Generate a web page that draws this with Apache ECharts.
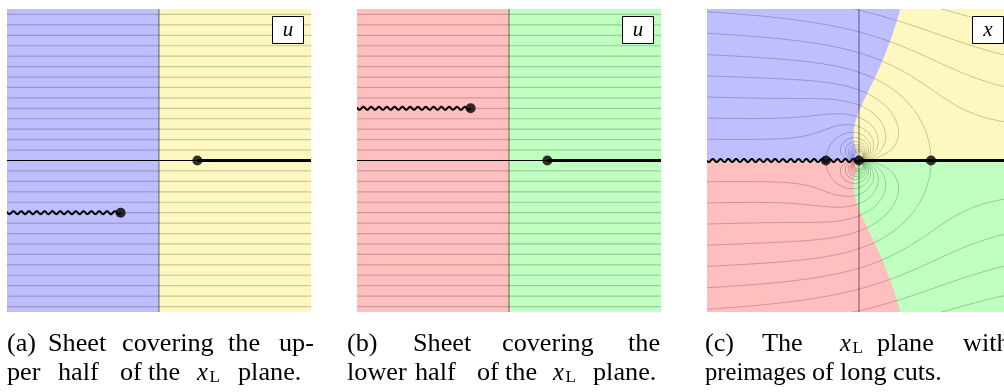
<!DOCTYPE html>
<html><head><meta charset="utf-8">
<script src="https://cdn.jsdelivr.net/npm/echarts@6/dist/echarts.min.js"></script>
<style>html,body{margin:0;padding:0;background:#fff}#c{width:1004px;height:392px}</style>
</head><body><div id="c"></div>
<script>
// ---------------- values ----------------
// Im(u) of the horizontal grid lines of the u plane (spacing 0.5)
const GRID_LEVELS = [-7,-6.5,-6,-5.5,-5,-4.5,-4,-3.5,-3,-2.5,-2,-1.5,-1,-0.5,0,0.5,1,1.5,2,2.5,3,3.5,4,4.5,5,5.5,6,6.5,7];
const U_RANGE_X = [-7.29, 7.29];
const U_RANGE_Y = [-7.26, 7.26];
// panel (c) is cut by the right border of the figure
const X_RANGE_X = [-3.11, 2.967];
const X_RANGE_Y = [-3.10, 3.10];
// long (log) cut height on each sheet: sheet (a), sheet (b)
const LONG_CUT_IM = [-2.5, 2.5];
const LONG_CUT_END_RE = [-1.84];   // Re u of the end of the wavy cut
const SHORT_CUT_START_RE = [1.84]; // Re u of the branch point of the straight cut
// special points on the real x axis: critical point, log point, critical point
const X_POINTS = [-0.678, 0, 1.474];
// map u = x + 1/x + k log x  (k fixed by the cut height: k*pi = -2.5)
const LOG_COEFF = [LONG_CUT_IM[0] / Math.PI];

const CAPTIONS = [
  [[["(a)",7],["Sheet",48],["covering",122],["the",228],["up-",279]],
   [["per",7],["half",58],["of",120],["the",148],["xL",197],["plane.",238]]],
  [[["(b)",347],["Sheet",413],["covering",502],["the",628]],
   [["lower",347],["half",415],["of",477],["the",505],["xL",553],["plane.",593]]],
  [[["(c)",705],["The",762],["xL",840],["plane",877],["with",963]],
   [["preimages",705],["of",812],["long",840],["cuts.",893]]]
];
const PANEL_LABELS = ["u", "u", "x"];

// ---------------- helpers ----------------
const K = LOG_COEFF[0];
function rAt(h, th) {
  const s = Math.sin(th), A = h - K * th, D = Math.sqrt(A * A + 4 * s * s);
  return A >= 0 ? (A + D) / (2 * s) : (2 * s) / (D - A);
}
function reU(h, th) { const r = rAt(h, th); return r * Math.cos(th) + Math.cos(th) / r + K * Math.log(r); }
// preimage of the line Im u = h on the upper half x plane
function levelCurve(h) {
  const pts = [], N = 1400;
  for (let i = 1; i < N; i++) {
    const t = i / N;
    const th = Math.PI * (1 - Math.cos(Math.PI * t)) / 2;
    const r = rAt(h, th);
    if (!(r < 40)) continue;
    pts.push([r * Math.cos(th), r * Math.sin(th)]);
  }
  return pts;
}
// preimage of Re u = 0 on the upper half x plane, from top down to origin
function boundaryCurve() {
  const hs = [];
  for (let h = 8; h > -10; h -= 0.02) hs.push(h);
  for (let h = -10; h >= -400; h -= 2) hs.push(h);
  const pts = [];
  for (const h of hs) {
    let lo = 1e-7, hi = Math.PI - 1e-7;
    for (let i = 0; i < 60; i++) { const m = (lo + hi) / 2; if (reU(h, m) > 0) lo = m; else hi = m; }
    const th = (lo + hi) / 2, r = rAt(h, th);
    pts.push([r * Math.cos(th), r * Math.sin(th)]);
  }
  pts.push([0, 0]);
  return pts;
}
const clampPt = (p, bx, by) => [Math.min(bx[1], Math.max(bx[0], p[0])), Math.min(by[1], Math.max(by[0], p[1]))];

const COL = { blue: '#bfbfff', yellow: '#fff7c0', red: '#ffbfbf', green: '#bfffbf' };
const GRID_LINE = 'rgba(0,0,0,0.2)';
const AXIS_LINE = 'rgba(0,0,0,0.45)';

function poly(api, pts, fill) {
  return { type: 'polygon', shape: { points: pts.map(p => api.coord(p)) }, style: { fill: fill, stroke: null } };
}
function wavyRender(params, api) {
  const x0 = api.value(0), x1 = api.value(1), y = api.value(2);
  const p0 = api.coord([x0, y]), p1 = api.coord([x1, y]);
  const pts = [], P = 7.8, A = 1.5;
  for (let px = p1[0]; px >= p0[0] - 0.5; px -= 0.5) {
    pts.push([px, p1[1] + A * Math.sin(2 * Math.PI * (p1[0] - px) / P)]);
  }
  return { type: 'polyline', shape: { points: pts }, style: { stroke: '#000', lineWidth: 2, fill: null } };
}

const series = [];
// ---- panels (a) and (b): u plane sheets ----
[0, 1].forEach(i => {
  const leftCol = i === 0 ? COL.blue : COL.red;
  const rightCol = i === 0 ? COL.yellow : COL.green;
  const ax = { xAxisIndex: i, yAxisIndex: i };
  series.push(Object.assign({
    type: 'custom', coordinateSystem: 'cartesian2d', clip: true, z: 1, silent: true,
    data: [[0, 0]],
    renderItem: (params, api) => ({
      type: 'group', children: [
        poly(api, [[U_RANGE_X[0], U_RANGE_Y[0]], [0, U_RANGE_Y[0]], [0, U_RANGE_Y[1]], [U_RANGE_X[0], U_RANGE_Y[1]]], leftCol),
        poly(api, [[0, U_RANGE_Y[0]], [U_RANGE_X[1], U_RANGE_Y[0]], [U_RANGE_X[1], U_RANGE_Y[1]], [0, U_RANGE_Y[1]]], rightCol)
      ]
    })
  }, ax));
  series.push(Object.assign({
    type: 'custom', coordinateSystem: 'cartesian2d', clip: true, z: 2, silent: true,
    data: GRID_LEVELS.map(h => [0, h]),
    renderItem: (params, api) => {
      const h = api.value(1);
      const a = api.coord([U_RANGE_X[0], h]), b = api.coord([U_RANGE_X[1], h]);
      return { type: 'line', shape: { x1: a[0], y1: a[1], x2: b[0], y2: b[1] }, style: { stroke: GRID_LINE, lineWidth: 1.2 } };
    }
  }, ax));
  series.push(Object.assign({ type: 'line', z: 3, symbol: 'none', silent: true,
    data: [[0, U_RANGE_Y[0]], [0, U_RANGE_Y[1]]], lineStyle: { color: AXIS_LINE, width: 1.2 } }, ax));
  series.push(Object.assign({ type: 'line', z: 4, symbol: 'none', silent: true,
    data: [[U_RANGE_X[0], 0], [SHORT_CUT_START_RE[0], 0]], lineStyle: { color: '#000', width: 1 } }, ax));
  series.push(Object.assign({ type: 'line', z: 5, symbol: 'none', silent: true,
    data: [[SHORT_CUT_START_RE[0], 0], [U_RANGE_X[1], 0]], lineStyle: { color: '#000', width: 3 } }, ax));
  series.push(Object.assign({ type: 'custom', coordinateSystem: 'cartesian2d', clip: true, z: 5, silent: true,
    data: [[U_RANGE_X[0], LONG_CUT_END_RE[0], LONG_CUT_IM[i]]], renderItem: wavyRender }, ax));
  series.push(Object.assign({ type: 'scatter', z: 6, symbolSize: 10, silent: true, itemStyle: { color: '#000' },
    data: [[SHORT_CUT_START_RE[0], 0], [LONG_CUT_END_RE[0], LONG_CUT_IM[i]]] }, ax));
});

// ---- panel (c): x plane ----
const BOUND = boundaryCurve();
const ax2 = { xAxisIndex: 2, yAxisIndex: 2 };
series.push(Object.assign({
  type: 'custom', coordinateSystem: 'cartesian2d', clip: true, z: 1, silent: true,
  data: [[0, 0]],
  renderItem: (params, api) => {
    const up = BOUND.concat([[X_RANGE_X[0], 0], [X_RANGE_X[0], X_RANGE_Y[1]]]).map(p => clampPt(p, X_RANGE_X, [0, X_RANGE_Y[1]]));
    const dn = up.map(p => [p[0], -p[1]]);
    return {
      type: 'group', children: [
        poly(api, [[X_RANGE_X[0], 0], [X_RANGE_X[1], 0], [X_RANGE_X[1], X_RANGE_Y[1]], [X_RANGE_X[0], X_RANGE_Y[1]]], COL.yellow),
        poly(api, [[X_RANGE_X[0], X_RANGE_Y[0]], [X_RANGE_X[1], X_RANGE_Y[0]], [X_RANGE_X[1], 0], [X_RANGE_X[0], 0]], COL.green),
        poly(api, up, COL.blue),
        poly(api, dn, COL.red)
      ]
    };
  }
}, ax2));
series.push(Object.assign({
  type: 'custom', coordinateSystem: 'cartesian2d', clip: true, z: 2, silent: true,
  data: GRID_LEVELS.map(h => [0, h]),
  renderItem: (params, api) => {
    const h = api.value(1);
    const up = levelCurve(h);
    const st = { stroke: 'rgba(0,0,0,0.22)', lineWidth: 1, fill: null };
    return {
      type: 'group', children: [
        { type: 'polyline', shape: { points: up.map(p => api.coord(p)) }, style: st },
        { type: 'polyline', shape: { points: up.map(p => api.coord([p[0], -p[1]])) }, style: st }
      ]
    };
  }
}, ax2));
series.push(Object.assign({ type: 'line', z: 3, symbol: 'none', silent: true,
  data: [[0, X_RANGE_Y[0]], [0, X_RANGE_Y[1]]], lineStyle: { color: AXIS_LINE, width: 1.2 } }, ax2));
series.push(Object.assign({ type: 'line', z: 5, symbol: 'none', silent: true,
  data: [[X_POINTS[1], 0], [X_RANGE_X[1], 0]], lineStyle: { color: '#000', width: 3 } }, ax2));
series.push(Object.assign({ type: 'custom', coordinateSystem: 'cartesian2d', clip: true, z: 5, silent: true,
  data: [[X_RANGE_X[0], X_POINTS[1], 0]], renderItem: wavyRender }, ax2));
series.push(Object.assign({ type: 'scatter', z: 6, symbolSize: 10, silent: true, itemStyle: { color: '#000' },
  data: X_POINTS.map(x => [x, 0]) }, ax2));

// ---- graphics: label boxes and captions ----
const graphic = [];
const PANEL_LEFT = [7, 357, 707];
const PANEL_W = [304, 304, 297];
PANEL_LABELS.forEach((lab, i) => {
  const bx = PANEL_LEFT[i] + 265;
  graphic.push({ type: 'rect', z: 100, shape: { x: bx + 0.5, y: 16.5, width: 31, height: 27 },
    style: { fill: '#fff', stroke: '#000', lineWidth: 1 } });
  graphic.push({ type: 'text', z: 101, x: bx + 16, y: 30,
    style: { text: lab, font: 'italic 21px "Liberation Serif"', fill: '#000',
      align: 'center', textAlign: 'center', verticalAlign: 'middle', textVerticalAlign: 'middle' } });
});
const BASE = [352.7, 381.7];
const FS = 24.5, MID = 0.3375;
const FONT = FS + 'px "Liberation Serif"';
const measureCtx = document.createElement('canvas').getContext('2d');
measureCtx.font = FONT;
function txt(text, x, y, font, sx) {
  return { type: 'text', z: 100, x: x, y: y, scaleX: sx || 1,
    style: { text: text, font: font, fill: '#000',
      align: 'left', textAlign: 'left', verticalAlign: 'middle', textVerticalAlign: 'middle' } };
}
CAPTIONS.forEach(cap => {
  cap.forEach((line, li) => {
    line.forEach(([w, x], wi) => {
      const y = BASE[li] - MID * FS;
      if (w === 'xL') {
        graphic.push(txt('x', x, y, 'italic ' + FONT));
        graphic.push(txt('L', x + 12.5, BASE[li] + 2 - MID * 17, '17px "Liberation Serif"'));
      } else {
        const width = measureCtx.measureText(w).width;
        const next = wi + 1 < line.length ? line[wi + 1][1] : Infinity;
        const sx = Math.max(1, Math.min(1.07, (next - 6 - x) / width));
        graphic.push(txt(w, x, y, FONT, sx));
      }
    });
  });
});

const chart = echarts.init(document.getElementById('c'), null, { renderer: 'canvas', width: 1004, height: 392 });
chart.setOption({
  animation: false,
  backgroundColor: '#fff',
  grid: PANEL_LEFT.map((l, i) => ({ left: l, top: 9, width: PANEL_W[i], height: 303, show: false })),
  xAxis: [
    { gridIndex: 0, type: 'value', min: U_RANGE_X[0], max: U_RANGE_X[1], show: false },
    { gridIndex: 1, type: 'value', min: U_RANGE_X[0], max: U_RANGE_X[1], show: false },
    { gridIndex: 2, type: 'value', min: X_RANGE_X[0], max: X_RANGE_X[1], show: false }
  ],
  yAxis: [
    { gridIndex: 0, type: 'value', min: U_RANGE_Y[0], max: U_RANGE_Y[1], show: false },
    { gridIndex: 1, type: 'value', min: U_RANGE_Y[0], max: U_RANGE_Y[1], show: false },
    { gridIndex: 2, type: 'value', min: X_RANGE_Y[0], max: X_RANGE_Y[1], show: false }
  ],
  series: series,
  graphic: graphic
});
</script></body></html>
